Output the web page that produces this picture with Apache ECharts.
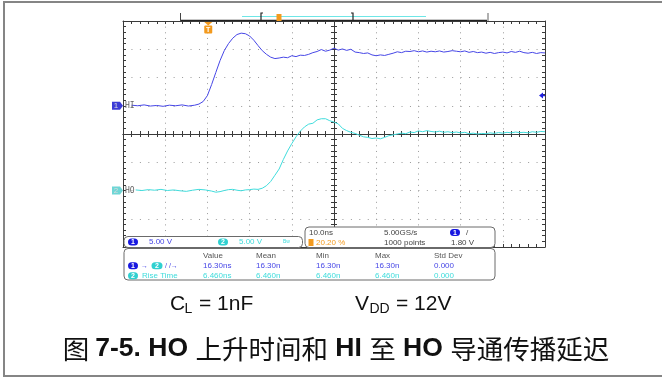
<!DOCTYPE html>
<html>
<head>
<meta charset="utf-8">
<script src="https://cdn.jsdelivr.net/npm/echarts@6/dist/echarts.min.js"></script>
<style>
  html, body { margin: 0; padding: 0; background: #fff; }
  #chart { width: 662px; height: 378px; }
</style>
</head>
<body>
<div id="chart"></div>
<script>
// time in ns (10 ns/div), amplitude in screen divisions
const hiTrace = [
  [-48, 1.02], [-46.5, 1.00], [-45, 1.03], [-43.5, 0.99], [-42, 1.01], [-40.5, 0.98],
  [-39, 1.02], [-37.5, 1.00], [-36, 1.03], [-34.5, 0.99], [-33, 1.02],
  [-32, 1.06], [-31, 1.15], [-30, 1.36], [-29, 1.75], [-28, 2.18], [-27, 2.60],
  [-26, 2.95], [-25, 3.20], [-24, 3.39], [-23, 3.52], [-22, 3.57], [-21, 3.55],
  [-20, 3.47], [-19, 3.32], [-18, 3.13], [-17, 2.95], [-16, 2.82], [-15, 2.72],
  [-14, 2.67], [-13, 2.69], [-12, 2.72], [-11, 2.70], [-10, 2.77], [-9, 2.74],
  [-8, 2.79], [-7, 2.78], [-6, 2.82], [-5, 2.88], [-4, 2.92], [-3, 2.99],
  [-2, 2.93], [-1, 2.97], [0, 3.04], [1, 2.97], [2, 3.01], [3, 2.96], [4, 3.00],
  [5, 2.90], [6, 2.88], [7, 2.85], [8, 2.87], [9, 2.80], [10, 2.77], [11, 2.80],
  [12, 2.78], [13, 2.82], [14, 2.86], [15, 2.91], [16, 2.88], [17, 2.93],
  [18, 2.92], [19, 2.95], [20, 2.91], [21, 2.94], [22, 2.90], [23, 2.93],
  [24, 2.91], [25, 2.94], [26, 2.90], [27, 2.92], [28, 2.95], [29, 2.93],
  [30, 2.91], [31, 2.94], [32, 2.89], [33, 2.92], [34, 2.88], [35, 2.90],
  [36, 2.86], [37, 2.89], [38, 2.85], [39, 2.88], [40, 2.90], [41, 2.87],
  [42, 2.92], [43, 2.89], [44, 2.93], [45, 2.88], [46, 2.86], [47, 2.89],
  [48, 2.85], [49, 2.88], [50, 2.87]
];
const hoTrace = [
  [-47, -1.98], [-45.5, -2.00], [-44, -1.97], [-42.5, -1.99], [-41, -1.96],
  [-39.5, -2.00], [-38, -1.98], [-36.5, -2.01], [-35, -2.03], [-33.5, -1.99],
  [-32, -1.96], [-30.5, -1.98], [-29, -2.02], [-28, -2.06], [-27, -2.04],
  [-26, -2.00], [-25, -1.97], [-24, -1.96], [-23, -1.99], [-22, -2.01],
  [-21, -1.98], [-20, -1.97], [-19, -1.95], [-18, -1.96], [-17, -1.92],
  [-16, -1.83], [-15, -1.68], [-14, -1.46], [-13, -1.24], [-12, -0.90],
  [-11, -0.60], [-10, -0.34], [-9, -0.10], [-8, 0.10], [-7, 0.25], [-6, 0.35],
  [-5, 0.38], [-4, 0.50], [-3, 0.54], [-2, 0.54], [-1, 0.47], [0, 0.42],
  [1, 0.36], [2, 0.20], [3, 0.12], [4, 0.06], [5, 0.02], [6, -0.04], [7, -0.10],
  [8, -0.12], [9, -0.16], [10, -0.14], [11, -0.17], [12, -0.12], [13, -0.06],
  [14, -0.03], [15, 0.00], [16, 0.03], [17, 0.01], [18, 0.07], [19, 0.05],
  [20, 0.11], [21, 0.08], [22, 0.12], [23, 0.09], [24, 0.07], [25, 0.10],
  [26, 0.06], [27, 0.08], [28, 0.05], [29, 0.07], [30, 0.04], [31, 0.06],
  [32, 0.01], [33, 0.03], [34, 0.00], [35, 0.02], [36, 0.01], [37, 0.04],
  [38, 0.02], [39, 0.05], [40, 0.03], [41, 0.06], [42, 0.04], [43, 0.07],
  [44, 0.05], [45, 0.06], [46, 0.04], [47, 0.08], [48, 0.06], [49, 0.09], [50, 0.08]
];
const hiOffset = 1;       // channel 1 ground marker (div)
const hoOffset = -2;      // channel 2 ground marker (div)
const trigLevel = 1.36;   // 1.80 V at 5 V/div above ch1 ground
const trigTime = -29.8;   // 20.20 % of record
const measHeaders = ['Value', 'Mean', 'Min', 'Max', 'Std Dev'];
const measDelay = ['16.30ns', '16.30n', '16.30n', '16.30n', '0.000'];
const measRise = ['6.460ns', '6.460n', '6.460n', '6.460n', '0.000'];

const BLUE = '#4646e6', CYAN = '#3fdcdc', ORANGE = '#f39a1e';
const AXIS = '#3a3a3a', DOTS = '#9a9a9a';
const small = 'Liberation Sans';

const chart = echarts.init(document.getElementById('chart'));

function xAx(extra) {
  return Object.assign({
    type: 'value', min: -50, max: 50, interval: 10,
    axisLabel: { show: false },
    axisLine: { show: true, onZero: false, lineStyle: { color: AXIS, width: 1 } },
    axisTick: { show: true, inside: true, length: 3, lineStyle: { color: AXIS } },
    minorTick: { show: true, splitNumber: 5, length: 3, lineStyle: { color: AXIS } },
    splitLine: { show: false }
  }, extra);
}
function yAx(extra) {
  return Object.assign({
    type: 'value', min: -4, max: 4, interval: 1,
    axisLabel: { show: false },
    axisLine: { show: true, onZero: false, lineStyle: { color: AXIS, width: 1 } },
    axisTick: { show: true, inside: true, length: 3, lineStyle: { color: AXIS } },
    minorTick: { show: true, splitNumber: 5, length: 3, lineStyle: { color: AXIS } },
    splitLine: { show: false }
  }, extra);
}

chart.setOption({
  animation: false,
  grid: { left: 123, right: 117, top: 21, bottom: 131 },
  xAxis: [
    xAx({ position: 'bottom', splitLine: { show: true, lineStyle: { color: DOTS, type: [1, 4.65] } } }),
    xAx({ position: 'top' }),
    xAx({ position: 'bottom', axisLine: { show: true, onZero: true, onZeroAxisIndex: 0, lineStyle: { color: AXIS } },
          axisTick: { show: true, inside: false, length: 3, lineStyle: { color: AXIS } } }),
    xAx({ position: 'bottom', axisLine: { show: true, onZero: true, onZeroAxisIndex: 1, lineStyle: { color: AXIS } },
          axisTick: { show: true, inside: true, length: 3, lineStyle: { color: AXIS } } })
  ],
  yAxis: [
    yAx({ position: 'left', splitLine: { show: true, lineStyle: { color: DOTS, type: [1, 7.44] } } }),
    yAx({ position: 'right' }),
    yAx({ position: 'left', axisLine: { show: true, onZero: true, onZeroAxisIndex: 0, lineStyle: { color: AXIS } },
          axisTick: { show: true, inside: false, length: 3, lineStyle: { color: AXIS } } }),
    yAx({ position: 'left', axisLine: { show: true, onZero: true, onZeroAxisIndex: 1, lineStyle: { color: AXIS } },
          axisTick: { show: true, inside: true, length: 3, lineStyle: { color: AXIS } } })
  ],
  series: [
    { type: 'line', name: 'HI', data: hiTrace, showSymbol: false, symbol: 'none',
      lineStyle: { color: BLUE, width: 1 }, z: 5 },
    { type: 'line', name: 'HO', data: hoTrace, showSymbol: false, symbol: 'none',
      lineStyle: { color: CYAN, width: 1 }, z: 5 }
  ]
});

// annotations drawn around the plot
const px = (x, y) => chart.convertToPixel({ xAxisIndex: 0, yAxisIndex: 0 }, [x, y]);
const gl = px(-50, 0)[0], gr = px(50, 0)[0];

function txt(x, y, text, fill, size, extra) {
  return { type: 'text', x: x, y: y, silent: true, z: 20,
    style: Object.assign({ text: text, fill: fill, fontSize: size || 8, fontFamily: small,
      align: 'left', verticalAlign: 'middle' }, extra || {}) };
}
function oval(cx, cy, num, fill, w) {
  w = w || 10;
  return [
    { type: 'rect', z: 19, silent: true, shape: { x: cx - w / 2, y: cy - 3.5, width: w, height: 7, r: 3.5 }, style: { fill: fill } },
    txt(cx, cy + 0.3, num, '#fff', 7, { align: 'center', fontWeight: 'bold' })
  ];
}
function panel(x, y, w, h) {
  return { type: 'rect', z: 18, silent: true, shape: { x: x, y: y, width: w, height: h, r: 4 },
    style: { fill: '#fff', stroke: '#6a6a6a', lineWidth: 1 } };
}
function tag(y, num, fill, label) {
  return [
    { type: 'polygon', z: 19, silent: true,
      shape: { points: [[gl - 11, y - 4], [gl - 3, y - 4], [gl, y], [gl - 3, y + 4], [gl - 11, y + 4]] },
      style: { fill: fill } },
    txt(gl - 7, y + 0.5, num, '#dcdcdc', 8, { align: 'center' }),
    txt(gl + 2, y + 0.5, label, '#666', 8, { fontFamily: 'DejaVu Sans Mono' })
  ];
}

const hiY = px(0, hiOffset)[1], hoY = px(0, hoOffset)[1], tlY = px(0, trigLevel)[1];
const trigX = px(trigTime, 0)[0];
const colX = [203, 256, 316, 375, 434];

let g = [
  { type: 'rect', silent: true, z: 1, shape: { x: 4, y: 2, width: 700, height: 374 },
    style: { fill: 'none', stroke: '#858585', lineWidth: 2 } },
  // record overview bar
  { type: 'line', silent: true, shape: { x1: 180, y1: 20.5, x2: 488, y2: 20.5 }, style: { stroke: '#222', lineWidth: 1.5 } },
  { type: 'line', silent: true, shape: { x1: 180.5, y1: 13, x2: 180.5, y2: 21 }, style: { stroke: '#444', lineWidth: 1 } },
  { type: 'rect', silent: true, shape: { x: 487, y: 13, width: 2, height: 8 }, style: { fill: '#b0b0b0' } },
  { type: 'line', silent: true, shape: { x1: 242, y1: 16.5, x2: 426, y2: 16.5 }, style: { stroke: '#6ee6e6', lineWidth: 1.2 } },
  { type: 'polyline', silent: true, shape: { points: [[263, 13], [261, 13], [261, 21], [263, 21]] }, style: { stroke: '#222', fill: 'none', lineWidth: 1.2 } },
  { type: 'polyline', silent: true, shape: { points: [[351, 13], [353, 13], [353, 21], [351, 21]] }, style: { stroke: '#222', fill: 'none', lineWidth: 1.2 } },
  { type: 'rect', silent: true, z: 19, shape: { x: 276.5, y: 14, width: 5, height: 7 }, style: { fill: ORANGE } },
  // trigger position marker
  { type: 'polygon', silent: true, z: 19, shape: { points: [[trigX - 4, 22], [trigX + 4, 22], [trigX, 25.5]] }, style: { fill: ORANGE } },
  { type: 'rect', silent: true, z: 19, shape: { x: trigX - 4, y: 25.5, width: 8, height: 8, r: 1 }, style: { fill: ORANGE } },
  txt(trigX, 30, 'T', '#fff', 7, { align: 'center', fontWeight: 'bold' }),
  // trigger level arrow
  { type: 'polygon', silent: true, z: 19, shape: { points: [[gr - 6, tlY], [gr - 2, tlY - 3], [gr - 2, tlY + 3]] }, style: { fill: '#2020e0' } },
  { type: 'line', silent: true, z: 19, shape: { x1: gr - 2, y1: tlY, x2: gr, y2: tlY }, style: { stroke: '#2020e0', lineWidth: 1.5 } },
  // panels
  panel(124, 236.5, 178.5, 11),
  panel(305, 227, 190, 20.5),
  panel(124, 248.5, 371, 31.5),
  txt(149, 242, '5.00 V', BLUE, 8),
  txt(239, 242, '5.00 V', CYAN, 8),
  txt(283, 242, 'Bw', CYAN, 5),
  txt(309, 232.5, '10.0ns', '#444', 8),
  txt(384, 232.5, '5.00GS/s', '#444', 8),
  txt(466, 232.5, '/', '#444', 8),
  { type: 'rect', silent: true, z: 19, shape: { x: 308.5, y: 239, width: 5, height: 7 }, style: { fill: ORANGE } },
  txt(316, 242.8, '20.20 %', ORANGE, 8),
  txt(384, 242.8, '1000 points', '#444', 8),
  txt(451, 242.8, '1.80 V', '#444', 8),
  txt(141, 265.7, '→', BLUE, 7),
  txt(165, 265.7, '/ /→', BLUE, 7),
  txt(142, 275.7, 'Rise Time', CYAN, 8),
  // captions
  txt(170, 304.5, 'C', '#111', 21),
  txt(184.5, 308.8, 'L', '#111', 14),
  txt(199, 304.5, '= 1nF', '#111', 21),
  txt(355, 304.5, 'V', '#111', 21),
  txt(369.5, 308.8, 'DD', '#111', 14),
  txt(396, 304.5, '= 12V', '#111', 21),
  { type: 'text', x: 336, y: 349, silent: true,
    style: { text: '{c|图 }{b|7-5. HO }{c|上升时间和}{b| HI }{c|至}{b| HO }{c|导通传播延迟}',
      align: 'center', verticalAlign: 'middle',
      rich: {
        b: { fontSize: 26.5, fontWeight: 'bold', fontFamily: 'Liberation Sans', fill: '#111' },
        c: { fontSize: 26.5, fontWeight: 'normal', fontFamily: 'Noto Sans CJK SC', fill: '#111' }
      } } }
];
g = g.concat(tag(hiY, '1', '#3c3cd6', 'HI'), tag(hoY, '2', '#6fd6d6', 'HO'));
g = g.concat(oval(133, 242, '1', '#1818e0'), oval(223, 242, '2', '#2fd0d0'));
g = g.concat(oval(455, 232.5, '1', '#1818e0'));
g = g.concat(oval(133, 265.7, '1', '#1818e0'), oval(157, 265.7, '2', '#2fd0d0', 11), oval(133, 275.7, '2', '#2fd0d0'));
measHeaders.forEach((h, i) => g.push(txt(colX[i], 255.7, h, '#555', 8)));
measDelay.forEach((v, i) => g.push(txt(colX[i], 265.7, v, BLUE, 8)));
measRise.forEach((v, i) => g.push(txt(colX[i], 275.7, v, CYAN, 8)));

chart.setOption({ graphic: { elements: g } });
</script>
</body>
</html>
